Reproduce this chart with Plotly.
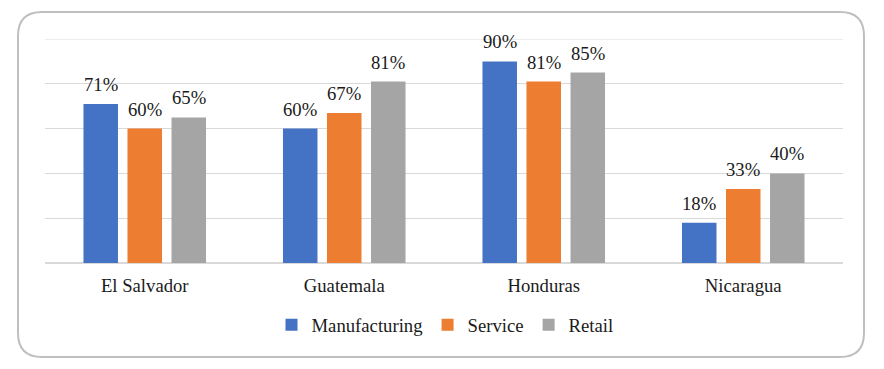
import plotly.graph_objects as go

countries = ["El Salvador", "Guatemala", "Honduras", "Nicaragua"]
series_names = ["Manufacturing", "Service", "Retail"]
manufacturing = [71, 60, 90, 18]
service = [60, 67, 81, 33]
retail = [65, 81, 85, 40]
colors = ["#4472C4", "#ED7D31", "#A5A5A5"]

OFF = 8  # page body margin
W, H = 884 - OFF, 369 - OFF
L, T = 45 - OFF, 39 - OFF
pw, ph = 798, 224
R, B = W - L - pw, H - T - ph

SERIF = "Liberation Serif"
FS = 18.7
TXT = "#1a1a1a"
BARGAP = 0.338
slot_px = pw / len(countries) * (1 - BARGAP) / len(series_names)

fig = go.Figure()
annotations = []
all_series = [manufacturing, service, retail]
for i, (name, vals, col) in enumerate(zip(series_names, all_series, colors)):
    fig.add_trace(go.Bar(
        x=countries, y=vals, name=name,
        marker=dict(color=col, line=dict(width=0)),
    ))
    shift = (i - (len(series_names) - 1) / 2) * slot_px
    for c, v in zip(countries, vals):
        annotations.append(dict(
            x=c, y=v, xref="x", yref="y", text=f"{v}%", showarrow=False,
            xanchor="center", yanchor="bottom", xshift=shift, yshift=7,
            font=dict(family=SERIF, size=FS, color=TXT),
        ))

def px2paper(x, y):
    return (x - OFF - L) / pw, (T + ph - (y - OFF)) / ph

x0, x1, y0, y1, r = 18, 864, 12, 357, 24
def P(x, y):
    a, b = px2paper(x, y)
    return f"{a:.5f},{b:.5f}"
path = (f"M{P(x0 + r, y0)} L{P(x1 - r, y0)} Q{P(x1, y0)} {P(x1, y0 + r)} "
        f"L{P(x1, y1 - r)} Q{P(x1, y1)} {P(x1 - r, y1)} L{P(x0 + r, y1)} "
        f"Q{P(x0, y1)} {P(x0, y1 - r)} L{P(x0, y0 + r)} Q{P(x0, y0)} {P(x0 + r, y0)} Z")

lx, ly = px2paper(445, 325)

fig.update_layout(
    width=W, height=H, margin=dict(l=L, r=R, t=T, b=B),
    paper_bgcolor="white", plot_bgcolor="white",
    barmode="group", bargap=BARGAP, bargroupgap=0.216,
    font=dict(family=SERIF, size=FS, color=TXT),
    showlegend=True,
    legend=dict(orientation="h", x=lx, y=ly, xanchor="center", yanchor="middle",
                font=dict(family=SERIF, size=FS, color=TXT),
                bgcolor="rgba(0,0,0,0)"),
    annotations=annotations,
    shapes=[
        dict(type="path", xref="paper", yref="paper", path=path,
             line=dict(color="#BFBFBF", width=2), layer="below"),
        dict(type="line", xref="paper", yref="y", x0=0, x1=1, y0=100, y1=100,
             line=dict(color="#D9D9D9", width=1), layer="below"),
    ],
)
fig.update_xaxes(showgrid=False, showline=True, linecolor="#D9D9D9", linewidth=1,
                 ticks="outside", ticklen=6, tickcolor="rgba(0,0,0,0)",
                 tickfont=dict(family=SERIF, size=FS, color=TXT))
fig.update_yaxes(range=[0, 100], dtick=20, showgrid=True, gridcolor="#D9D9D9", gridwidth=1,
                 zeroline=True, zerolinecolor="#D9D9D9", showticklabels=False, showline=False)

fig.write_html("out.html")
